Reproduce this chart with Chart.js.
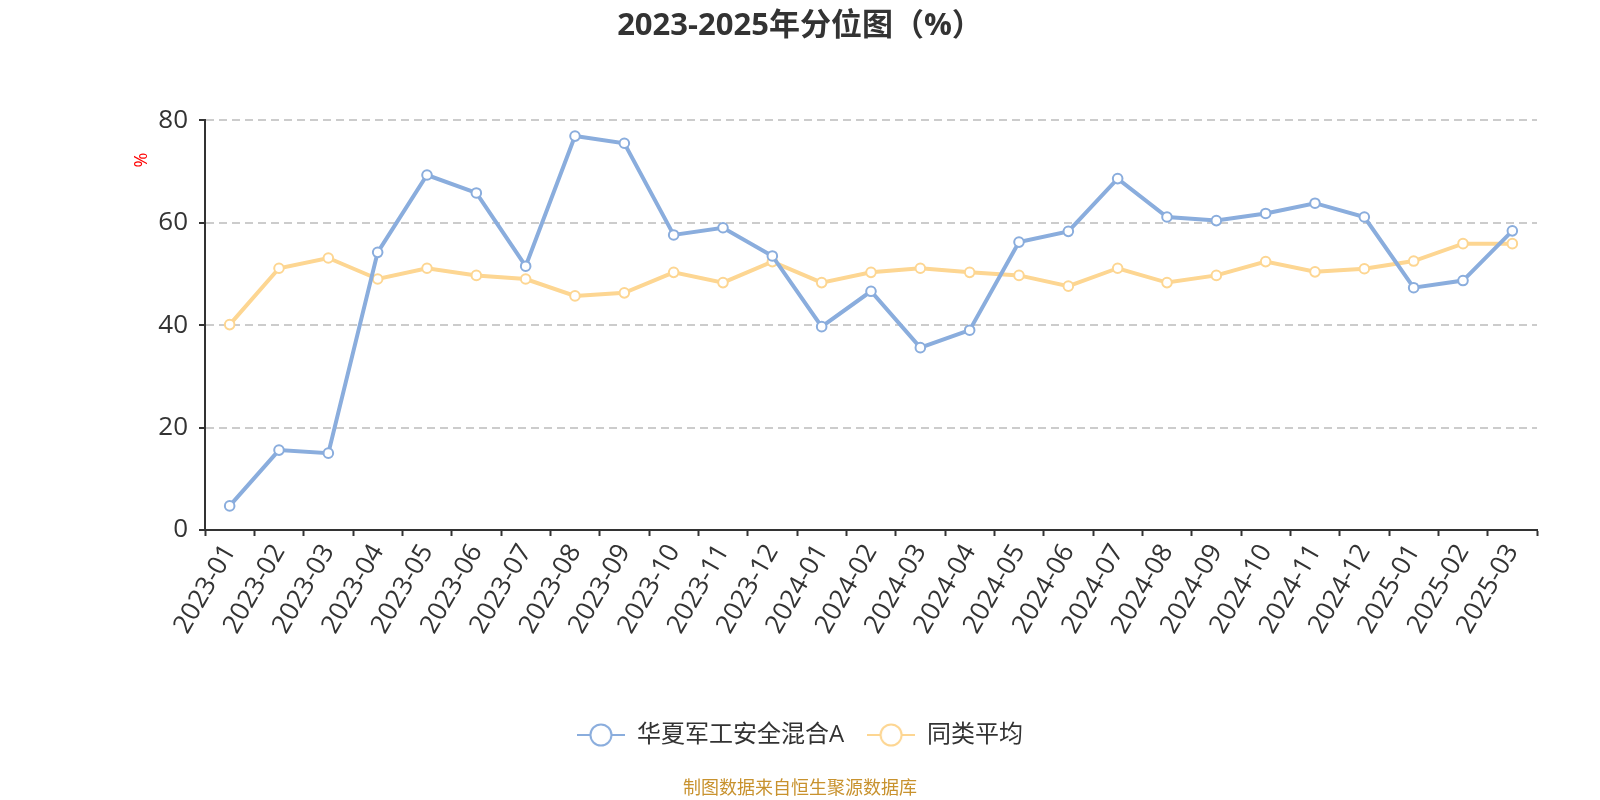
<!DOCTYPE html>
<html>
<head>
<meta charset="utf-8">
<script src="https://cdn.jsdelivr.net/npm/chart.js@4"></script>
<style>
  html, body { margin: 0; padding: 0; background: #fff; }
  #wrap { width: 1600px; height: 800px; }
</style>
</head>
<body>
<div id="wrap"><canvas id="c"></canvas></div>
<script>
// 월별 분위 데이터
const months = [
  '2023-01', '2023-02', '2023-03', '2023-04', '2023-05', '2023-06', '2023-07', '2023-08', '2023-09',
  '2023-10', '2023-11', '2023-12', '2024-01', '2024-02', '2024-03', '2024-04', '2024-05', '2024-06',
  '2024-07', '2024-08', '2024-09', '2024-10', '2024-11', '2024-12', '2025-01', '2025-02', '2025-03'
];
const fundValues = [
  4.7, 15.6, 15.0, 54.2, 69.3, 65.8, 51.5, 76.9, 75.5,
  57.6, 59.0, 53.5, 39.7, 46.6, 35.6, 39.0, 56.2, 58.3,
  68.6, 61.1, 60.4, 61.8, 63.8, 61.1, 47.3, 48.7, 58.4
];
const peerValues = [
  40.1, 51.1, 53.1, 49.0, 51.1, 49.7, 49.0, 45.7, 46.3,
  50.3, 48.3, 52.4, 48.3, 50.3, 51.1, 50.3, 49.7, 47.6,
  51.1, 48.3, 49.7, 52.4, 50.4, 51.0, 52.5, 55.9, 55.9
];
const yTicks = [0, 20, 40, 60, 80];
const seriesNames = ['华夏军工安全混合A', '同类平均'];

const BLUE = '#8aaddd';
const YELLOW = '#fdd692';
const FONT = "'Open Sans', 'Noto Sans CJK SC', sans-serif";

// 범례 아이콘 (선 + 원)
function legendIcon(color) {
  const cv = document.createElement('canvas');
  cv.width = 48;
  cv.height = 26;
  const g = cv.getContext('2d');
  g.strokeStyle = color;
  g.lineWidth = 2;
  g.beginPath();
  g.moveTo(0, 13);
  g.lineTo(48, 13);
  g.stroke();
  g.beginPath();
  g.arc(24, 13, 10.5, 0, Math.PI * 2);
  g.fillStyle = '#fff';
  g.fill();
  g.stroke();
  return cv;
}
const icons = [legendIcon(BLUE), legendIcon(YELLOW)];

// 축 제목(%)과 출처 문구
const extraText = {
  id: 'extraText',
  afterDraw(chart) {
    const ctx = chart.ctx;
    ctx.save();
    ctx.fillStyle = '#ff0000';
    ctx.font = '18px ' + FONT;
    ctx.textAlign = 'center';
    ctx.textBaseline = 'middle';
    ctx.translate(142, 160);
    ctx.rotate(-Math.PI / 2);
    ctx.fillText('%', 0, 0);
    ctx.restore();

    ctx.save();
    ctx.fillStyle = '#c8922e';
    ctx.font = '18px ' + FONT;
    ctx.textAlign = 'center';
    ctx.textBaseline = 'middle';
    ctx.fillText('制图数据来自恒生聚源数据库', 800, 789);
    ctx.restore();
  }
};

const lineDataset = (label, data, color) => ({
  label,
  data,
  borderColor: color,
  backgroundColor: '#fff',
  borderWidth: 4,
  pointRadius: 4.8,
  pointBorderWidth: 2,
  pointBackgroundColor: '#fff',
  pointBorderColor: color,
  tension: 0
});

new Chart(document.getElementById('c'), {
  type: 'line',
  data: {
    labels: months,
    datasets: [
      lineDataset(seriesNames[0], fundValues, BLUE),
      lineDataset(seriesNames[1], peerValues, YELLOW)
    ]
  },
  options: {
    responsive: true,
    maintainAspectRatio: false,
    animation: false,
    layout: { padding: { left: 63, right: 63, top: 0, bottom: 43 } },
    plugins: {
      title: {
        display: true,
        text: '2023-2025年分位图（%）',
        color: '#333',
        font: { size: 31, weight: 'bold', family: FONT },
        padding: { top: 8, bottom: 75 }
      },
      legend: {
        position: 'bottom',
        labels: {
          color: '#333',
          font: { size: 24, family: FONT },
          usePointStyle: true,
          pointStyleWidth: 48,
          padding: 23,
          generateLabels(chart) {
            const items = Chart.defaults.plugins.legend.labels.generateLabels(chart);
            items.forEach((it, i) => { it.pointStyle = icons[i]; });
            return items;
          }
        }
      },
      tooltip: { enabled: false }
    },
    scales: {
      x: {
        offset: true,
        afterFit: (scale) => { scale.height = 170; },
        grid: {
          offset: true,
          drawOnChartArea: false,
          drawTicks: true,
          tickLength: 6,
          tickColor: '#333',
          tickWidth: 2
        },
        border: { color: '#333', width: 2 },
        ticks: {
          color: '#333',
          font: { size: 26, family: FONT },
          minRotation: 60,
          maxRotation: 60,
          autoSkip: false,
          padding: 3
        }
      },
      y: {
        min: 0,
        max: 80,
        afterFit: (scale) => { scale.width = 142; },
        afterBuildTicks: (scale) => { scale.ticks = yTicks.map(v => ({ value: v })); },
        grid: {
          color: '#cccccc',
          lineWidth: 2,
          drawTicks: true,
          tickLength: 6,
          tickColor: '#333',
          tickWidth: 2
        },
        border: { color: '#333', width: 2, dash: [8, 5] },
        ticks: {
          color: '#333',
          font: { size: 26, family: FONT },
          padding: 11
        }
      }
    }
  },
  plugins: [extraText]
});
</script>
</body>
</html>
